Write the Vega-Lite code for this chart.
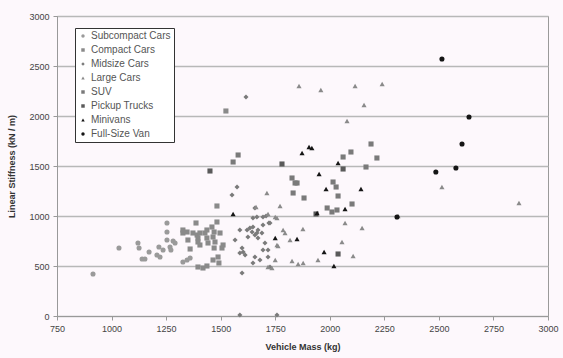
{
  "$schema": "https://vega.github.io/schema/vega-lite/v6.json",
  "width": 491,
  "height": 300,
  "autosize": "none",
  "padding": {"left": 57, "top": 16, "right": 15, "bottom": 42},
  "background": "#fdf8fc",
  "config": {
    "view": {"stroke": "#9a9a9a", "strokeWidth": 1},
    "font": "Liberation Sans",
    "axis": {"labelFont": "Liberation Sans", "titleFont": "Liberation Sans", "labelColor": "#444", "titleColor": "#333", "labelFontSize": 9, "titleFontSize": 9, "titleFontWeight": "bold", "domainColor": "#999", "tickColor": "#999", "tickSize": 4},
    "legend": {"labelFont": "Liberation Sans"}
  },
  "data": {"values": [
    {"m":915,"s":420,"c":"Subcompact Cars"},
    {"m":1034,"s":680,"c":"Subcompact Cars"},
    {"m":1121,"s":730,"c":"Subcompact Cars"},
    {"m":1126,"s":680,"c":"Subcompact Cars"},
    {"m":1140,"s":570,"c":"Subcompact Cars"},
    {"m":1153,"s":570,"c":"Subcompact Cars"},
    {"m":1172,"s":640,"c":"Subcompact Cars"},
    {"m":1208,"s":610,"c":"Subcompact Cars"},
    {"m":1222,"s":590,"c":"Subcompact Cars"},
    {"m":1217,"s":690,"c":"Subcompact Cars"},
    {"m":1236,"s":660,"c":"Subcompact Cars"},
    {"m":1254,"s":930,"c":"Subcompact Cars"},
    {"m":1254,"s":840,"c":"Subcompact Cars"},
    {"m":1254,"s":760,"c":"Subcompact Cars"},
    {"m":1268,"s":690,"c":"Subcompact Cars"},
    {"m":1272,"s":660,"c":"Subcompact Cars"},
    {"m":1282,"s":750,"c":"Subcompact Cars"},
    {"m":1291,"s":730,"c":"Subcompact Cars"},
    {"m":1327,"s":540,"c":"Subcompact Cars"},
    {"m":1346,"s":560,"c":"Subcompact Cars"},
    {"m":1360,"s":580,"c":"Subcompact Cars"},
    {"m":1327,"s":830,"c":"Compact Cars"},
    {"m":1346,"s":840,"c":"Compact Cars"},
    {"m":1350,"s":760,"c":"Compact Cars"},
    {"m":1360,"s":670,"c":"Compact Cars"},
    {"m":1327,"s":860,"c":"Compact Cars"},
    {"m":1373,"s":830,"c":"Compact Cars"},
    {"m":1396,"s":780,"c":"Compact Cars"},
    {"m":1405,"s":710,"c":"Compact Cars"},
    {"m":1387,"s":930,"c":"Compact Cars"},
    {"m":1392,"s":810,"c":"Compact Cars"},
    {"m":1396,"s":740,"c":"Compact Cars"},
    {"m":1405,"s":830,"c":"Compact Cars"},
    {"m":1428,"s":830,"c":"Compact Cars"},
    {"m":1437,"s":780,"c":"Compact Cars"},
    {"m":1442,"s":730,"c":"Compact Cars"},
    {"m":1396,"s":490,"c":"Compact Cars"},
    {"m":1419,"s":480,"c":"Compact Cars"},
    {"m":1437,"s":500,"c":"Compact Cars"},
    {"m":1460,"s":890,"c":"Compact Cars"},
    {"m":1470,"s":840,"c":"Compact Cars"},
    {"m":1465,"s":790,"c":"Compact Cars"},
    {"m":1474,"s":740,"c":"Compact Cars"},
    {"m":1470,"s":680,"c":"Compact Cars"},
    {"m":1465,"s":560,"c":"Compact Cars"},
    {"m":1488,"s":590,"c":"Compact Cars"},
    {"m":1492,"s":530,"c":"Compact Cars"},
    {"m":1506,"s":680,"c":"Compact Cars"},
    {"m":1511,"s":710,"c":"Compact Cars"},
    {"m":1483,"s":940,"c":"Compact Cars"},
    {"m":1497,"s":830,"c":"Compact Cars"},
    {"m":1483,"s":1100,"c":"Compact Cars"},
    {"m":1437,"s":860,"c":"Compact Cars"},
    {"m":1524,"s":2050,"c":"Compact Cars"},
    {"m":1552,"s":1210,"c":"Midsize Cars"},
    {"m":1575,"s":1290,"c":"Midsize Cars"},
    {"m":1588,"s":860,"c":"Midsize Cars"},
    {"m":1566,"s":760,"c":"Midsize Cars"},
    {"m":1598,"s":680,"c":"Midsize Cars"},
    {"m":1603,"s":640,"c":"Midsize Cars"},
    {"m":1598,"s":430,"c":"Midsize Cars"},
    {"m":1612,"s":610,"c":"Midsize Cars"},
    {"m":1644,"s":840,"c":"Midsize Cars"},
    {"m":1648,"s":890,"c":"Midsize Cars"},
    {"m":1657,"s":1080,"c":"Midsize Cars"},
    {"m":1648,"s":980,"c":"Midsize Cars"},
    {"m":1666,"s":830,"c":"Midsize Cars"},
    {"m":1657,"s":590,"c":"Midsize Cars"},
    {"m":1648,"s":530,"c":"Midsize Cars"},
    {"m":1680,"s":560,"c":"Midsize Cars"},
    {"m":1694,"s":660,"c":"Midsize Cars"},
    {"m":1717,"s":660,"c":"Midsize Cars"},
    {"m":1703,"s":730,"c":"Midsize Cars"},
    {"m":1634,"s":880,"c":"Midsize Cars"},
    {"m":1671,"s":860,"c":"Midsize Cars"},
    {"m":1689,"s":830,"c":"Midsize Cars"},
    {"m":1694,"s":910,"c":"Midsize Cars"},
    {"m":1721,"s":930,"c":"Midsize Cars"},
    {"m":1621,"s":860,"c":"Midsize Cars"},
    {"m":1625,"s":790,"c":"Midsize Cars"},
    {"m":1657,"s":810,"c":"Midsize Cars"},
    {"m":1671,"s":780,"c":"Midsize Cars"},
    {"m":1694,"s":990,"c":"Midsize Cars"},
    {"m":1708,"s":1000,"c":"Midsize Cars"},
    {"m":1726,"s":930,"c":"Midsize Cars"},
    {"m":1666,"s":990,"c":"Midsize Cars"},
    {"m":1588,"s":630,"c":"Midsize Cars"},
    {"m":1717,"s":590,"c":"Midsize Cars"},
    {"m":1726,"s":490,"c":"Midsize Cars"},
    {"m":1616,"s":2190,"c":"Midsize Cars"},
    {"m":1588,"s":10,"c":"Midsize Cars"},
    {"m":1758,"s":10,"c":"Midsize Cars"},
    {"m":1712,"s":1230,"c":"Large Cars"},
    {"m":1662,"s":1090,"c":"Large Cars"},
    {"m":1750,"s":990,"c":"Large Cars"},
    {"m":1717,"s":1020,"c":"Large Cars"},
    {"m":1772,"s":1100,"c":"Large Cars"},
    {"m":1758,"s":980,"c":"Large Cars"},
    {"m":1763,"s":700,"c":"Large Cars"},
    {"m":1750,"s":560,"c":"Large Cars"},
    {"m":1717,"s":490,"c":"Large Cars"},
    {"m":1735,"s":480,"c":"Large Cars"},
    {"m":1758,"s":710,"c":"Large Cars"},
    {"m":1786,"s":860,"c":"Large Cars"},
    {"m":1795,"s":830,"c":"Large Cars"},
    {"m":1818,"s":760,"c":"Large Cars"},
    {"m":1827,"s":550,"c":"Large Cars"},
    {"m":1855,"s":520,"c":"Large Cars"},
    {"m":1878,"s":530,"c":"Large Cars"},
    {"m":1877,"s":870,"c":"Large Cars"},
    {"m":1946,"s":560,"c":"Large Cars"},
    {"m":2107,"s":600,"c":"Large Cars"},
    {"m":2056,"s":740,"c":"Large Cars"},
    {"m":2070,"s":930,"c":"Large Cars"},
    {"m":2148,"s":880,"c":"Large Cars"},
    {"m":1859,"s":2300,"c":"Large Cars"},
    {"m":1959,"s":2260,"c":"Large Cars"},
    {"m":2116,"s":2300,"c":"Large Cars"},
    {"m":2240,"s":2320,"c":"Large Cars"},
    {"m":2157,"s":2110,"c":"Large Cars"},
    {"m":2079,"s":1950,"c":"Large Cars"},
    {"m":2514,"s":1290,"c":"Large Cars"},
    {"m":2867,"s":1130,"c":"Large Cars"},
    {"m":2313,"s":1000,"c":"Large Cars"},
    {"m":1580,"s":1610,"c":"SUV"},
    {"m":1557,"s":1540,"c":"SUV"},
    {"m":1832,"s":1230,"c":"SUV"},
    {"m":1841,"s":1330,"c":"SUV"},
    {"m":1882,"s":1180,"c":"SUV"},
    {"m":2015,"s":1340,"c":"SUV"},
    {"m":2029,"s":1290,"c":"SUV"},
    {"m":2038,"s":1200,"c":"SUV"},
    {"m":2097,"s":1640,"c":"SUV"},
    {"m":2061,"s":1590,"c":"SUV"},
    {"m":2189,"s":1720,"c":"SUV"},
    {"m":2216,"s":1580,"c":"SUV"},
    {"m":2166,"s":1490,"c":"SUV"},
    {"m":2010,"s":1040,"c":"SUV"},
    {"m":2033,"s":1060,"c":"SUV"},
    {"m":2102,"s":1120,"c":"SUV"},
    {"m":1988,"s":1080,"c":"SUV"},
    {"m":1827,"s":1380,"c":"SUV"},
    {"m":1850,"s":1330,"c":"SUV"},
    {"m":1451,"s":1450,"c":"Pickup Trucks"},
    {"m":1781,"s":1520,"c":"Pickup Trucks"},
    {"m":2061,"s":1470,"c":"Pickup Trucks"},
    {"m":2038,"s":620,"c":"Pickup Trucks"},
    {"m":1937,"s":1020,"c":"Pickup Trucks"},
    {"m":1873,"s":1630,"c":"Minivans"},
    {"m":1905,"s":1690,"c":"Minivans"},
    {"m":1918,"s":1680,"c":"Minivans"},
    {"m":2038,"s":1530,"c":"Minivans"},
    {"m":1951,"s":1420,"c":"Minivans"},
    {"m":1983,"s":1270,"c":"Minivans"},
    {"m":2143,"s":1270,"c":"Minivans"},
    {"m":2070,"s":1070,"c":"Minivans"},
    {"m":1974,"s":640,"c":"Minivans"},
    {"m":2019,"s":500,"c":"Minivans"},
    {"m":1557,"s":1020,"c":"Minivans"},
    {"m":1850,"s":770,"c":"Minivans"},
    {"m":1750,"s":780,"c":"Minivans"},
    {"m":1942,"s":1030,"c":"Minivans"},
    {"m":2514,"s":2570,"c":"Full-Size Van"},
    {"m":2638,"s":1990,"c":"Full-Size Van"},
    {"m":2606,"s":1720,"c":"Full-Size Van"},
    {"m":2578,"s":1480,"c":"Full-Size Van"},
    {"m":2486,"s":1440,"c":"Full-Size Van"},
    {"m":2308,"s":990,"c":"Full-Size Van"}
  ]},
  "mark": {"type": "point", "filled": true, "size": 26, "opacity": 1},
  "encoding": {
    "x": {"field": "m", "type": "quantitative", "title": "Vehicle Mass (kg)",
      "scale": {"domain": [750, 3000], "nice": false, "zero": false},
      "axis": {"values": [750,1000,1250,1500,1750,2000,2250,2500,2750,3000], "format": "d", "grid": false, "labelPadding": 4, "titlePadding": 9, "labelFlush": false}},
    "y": {"field": "s", "type": "quantitative", "title": "Linear Stiffness (kN / m)",
      "scale": {"domain": [0, 3000], "nice": false},
      "axis": {"values": [0,500,1000,1500,2000,2500,3000], "format": "d", "grid": true, "gridColor": "#b8b8b8", "gridWidth": 1.5, "labelPadding": 4, "titlePadding": 12, "labelFlush": false}},
    "color": {"field": "c", "type": "nominal", "title": null,
      "scale": {"domain": ["Subcompact Cars","Compact Cars","Midsize Cars","Large Cars","SUV","Pickup Trucks","Minivans","Full-Size Van"],
        "range": ["#9a9a9a","#8a8a8a","#7a7a7a","#8a8a8a","#7a7a7a","#5a5a5a","#151515","#151515"]},
      "legend": {"orient": "none", "legendX": 18, "legendY": 12, "fillColor": "#ffffff", "strokeColor": "#333", "padding": 3, "rowPadding": 4, "labelFontSize": 10, "labelColor": "#555", "symbolSize": 12, "labelOffset": 3}},
    "shape": {"field": "c", "type": "nominal",
      "scale": {"domain": ["Subcompact Cars","Compact Cars","Midsize Cars","Large Cars","SUV","Pickup Trucks","Minivans","Full-Size Van"],
        "range": ["circle","square","diamond","triangle-up","square","square","triangle-up","circle"]}}
  }
}
